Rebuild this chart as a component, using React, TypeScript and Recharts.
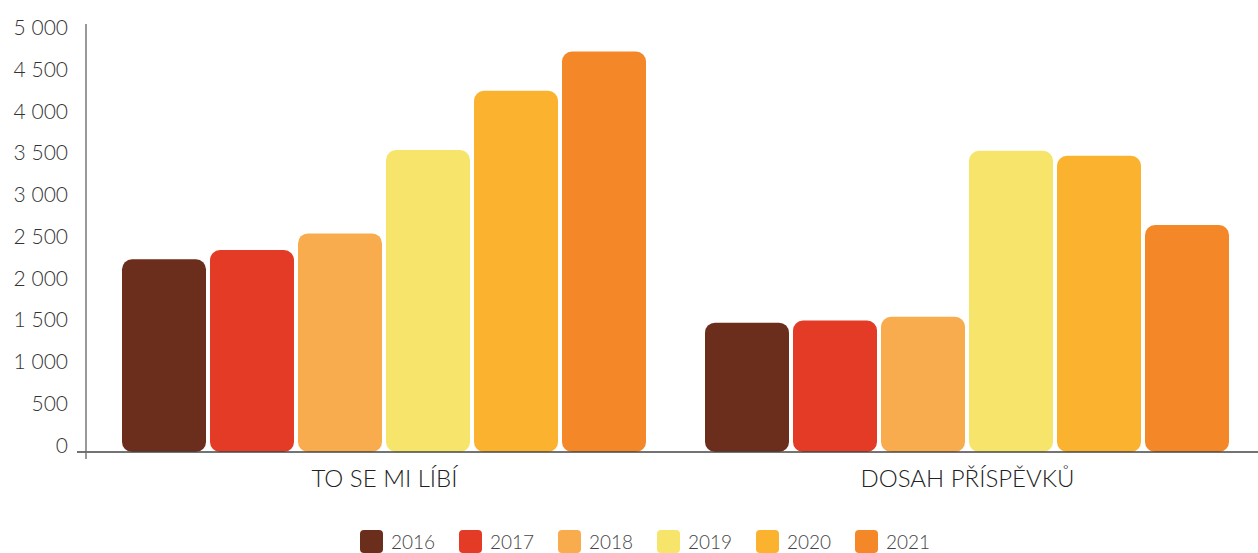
import { BarChart, Bar, XAxis, YAxis, Legend } from "recharts";

const categories = ["TO SE MI LÍBÍ", "DOSAH PŘÍSPĚVKŮ"];
const years = ["2016", "2017", "2018", "2019", "2020", "2021"];
const values2016 = [2310, 1550];
const values2017 = [2420, 1575];
const values2018 = [2620, 1620];
const values2019 = [3620, 3610];
const values2020 = [4330, 3550];
const values2021 = [4800, 2720];
const yTicks = [0, 500, 1000, 1500, 2000, 2500, 3000, 3500, 4000, 4500, 5000];

const colors = ["#6B2D1C", "#E33B26", "#F9AC4E", "#F7E56B", "#FBB22E", "#F48828"];
const series = [values2016, values2017, values2018, values2019, values2020, values2021];

const data = categories.map((name, i) => {
  const row: Record<string, string | number> = { name };
  years.forEach((y, j) => {
    row[y] = series[j][i];
  });
  return row;
});

const font = "Lato, 'Open Sans', sans-serif";

function formatNum(v: number) {
  return String(v).replace(/\B(?=(\d{3})+(?!\d))/g, " ");
}

function YTick(props: any) {
  const { x, y, payload } = props;
  return (
    <g>
      {payload.value === 0 && (
        <>
          <line x1={x + 9} x2={x + 18} y1={y} y2={y} stroke="#444" strokeWidth={1.5} />
          <line x1={x + 18} x2={x + 18} y1={y} y2={y + 7} stroke="#777" strokeWidth={1.5} />
        </>
      )}
      <text
        x={x}
        y={y - 8}
        textAnchor="end"
        dominantBaseline="central"
        fill="#333"
        fontSize={21}
        fontWeight={300}
        fontFamily={font}
      >
        {formatNum(payload.value)}
      </text>
    </g>
  );
}

function XTick(props: any) {
  const { x, y, payload } = props;
  return (
    <text
      x={x + 1}
      y={y + 17}
      textAnchor="middle"
      dominantBaseline="central"
      fill="#222"
      fontSize={24}
      fontWeight={300}
      fontFamily={font}
    >
      {payload.value}
    </text>
  );
}

function LegendContent() {
  return (
    <div style={{ height: 40, paddingTop: 17, paddingLeft: 360, boxSizing: "border-box", display: "flex" }}>
      {years.map((y, i) => (
        <div key={y} style={{ width: 99, display: "flex", alignItems: "center", height: 23 }}>
          <div style={{ width: 23, height: 23, borderRadius: 4, background: colors[i], marginRight: 8 }} />
          <span style={{ fontFamily: font, fontWeight: 300, fontSize: 19, color: "#444" }}>{y}</span>
        </div>
      ))}
    </div>
  );
}

export default function App() {
  return (
    <div style={{ position: "absolute", left: 0, top: 0, width: 1258, height: 553, background: "#fff" }}>
      <BarChart
        width={1258}
        height={553}
        data={data}
        margin={{ top: 24, right: 0, bottom: 0, left: 0 }}
        barSize={84}
        barGap={4}
      >
        <XAxis
          dataKey="name"
          height={61}
          padding={{ left: 6, right: 0 }}
          axisLine={{ stroke: "#444", strokeWidth: 1.5 }}
          tickLine={false}
          tick={<XTick />}
        />
        <YAxis
          width={86}
          domain={[0, 5130]}
          ticks={yTicks}
          interval={0}
          tickSize={9}
          tickMargin={9}
          tickLine={false}
          axisLine={{ stroke: "#777", strokeWidth: 1.5 }}
          tick={<YTick />}
        />
        <Legend verticalAlign="bottom" content={<LegendContent />} />
        {years.map((y, i) => (
          <Bar key={y} dataKey={y} fill={colors[i]} radius={10} isAnimationActive={false} />
        ))}
      </BarChart>
    </div>
  );
}
